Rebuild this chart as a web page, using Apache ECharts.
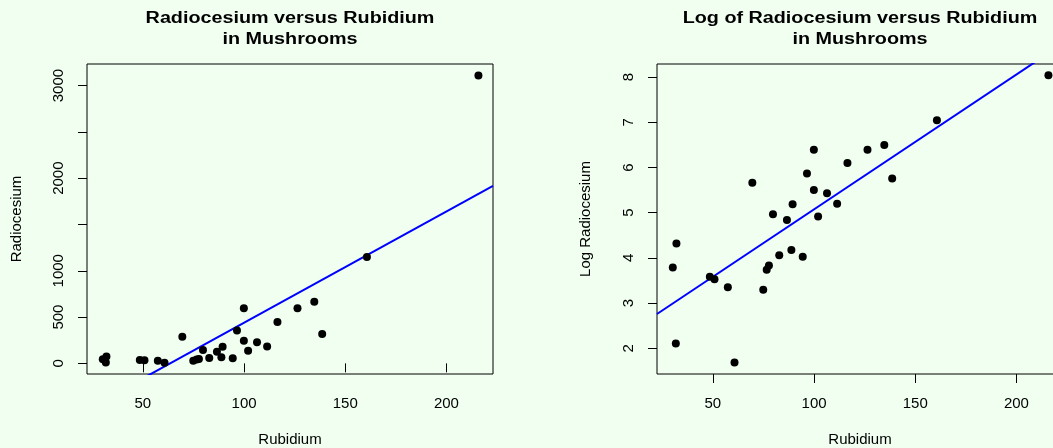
<!DOCTYPE html>
<html>
<head>
<meta charset="utf-8">
<script src="https://cdn.jsdelivr.net/npm/echarts@6/dist/echarts.min.js"></script>
<style>
  html, body { margin: 0; padding: 0; background: #F0FFF0; }
  #chart { width: 1053px; height: 448px; }
</style>
</head>
<body>
<div id="chart"></div>
<script>
// Rubidium and radiocesium concentrations measured in mushroom samples
const rubidium = [30.2, 32.0, 31.7, 48.5, 50.8, 57.4, 60.7, 69.5, 74.9, 76.6,
                  77.7, 79.7, 82.8, 86.6, 88.8, 89.4, 94.4, 96.5, 99.9, 99.9,
                  102.0, 106.4, 111.4, 116.5, 126.4, 134.7, 138.6, 160.7, 215.8];
const radiocesium = [44, 75, 8.2, 36, 34, 28.5, 5.4, 287, 27, 42,
                     46, 143, 58, 126, 65, 179, 56, 354, 596, 245,
                     136, 228, 181, 446, 596, 665, 317, 1149, 3109];

// Least-squares lines: intercept and slope
const fitRaw = { intercept: -763, slope: 12.02 };
const fitLog = { intercept: 2.09, slope: 0.02984 };

// Axis ticks
const xTicks = [50, 100, 150, 200];
const yTicksRaw = [0, 500, 1000, 1500, 2000, 2500, 3000];
const yLabelsRaw = [0, 500, 1000, 2000, 3000];
const yTicksLog = [2, 3, 4, 5, 6, 7, 8];

// Axis ranges (data range padded by 4%)
const xRange = [22.4, 223.0];
const yRangeRaw = [-115, 3233];
const yRangeLog = [1.43, 8.29];

const FONT = '"Liberation Sans", Arial, Helvetica, sans-serif';
const plain = v => String(v);

const rawPoints = rubidium.map((r, i) => [r, radiocesium[i]]);
const logPoints = rubidium.map((r, i) => [r, Math.log(radiocesium[i])]);
const lineOf = f => xRange.map(x => [x, f.intercept + f.slope * x]);

function xAxisDef(gridIndex) {
  return {
    type: 'value', gridIndex,
    min: xRange[0], max: xRange[1],
    name: 'Rubidium', nameLocation: 'middle', nameGap: 58,
    nameTextStyle: { fontFamily: FONT, fontSize: 15, color: '#000' },
    axisLine: { show: false },
    axisTick: { show: true, inside: false, length: 9, customValues: xTicks,
                lineStyle: { color: '#000', width: 1 } },
    axisLabel: { customValues: xTicks, margin: 22, formatter: plain,
                 fontFamily: FONT, fontSize: 15, color: '#000' },
    splitLine: { show: false }
  };
}

function yAxisDef(gridIndex, range, ticks, labels, name, gap) {
  return {
    type: 'value', gridIndex,
    min: range[0], max: range[1],
    name, nameLocation: 'middle', nameGap: gap,
    nameTextStyle: { fontFamily: FONT, fontSize: 15, color: '#000' },
    axisLine: { show: false },
    axisTick: { show: true, inside: false, length: 9, customValues: ticks,
                lineStyle: { color: '#000', width: 1 } },
    axisLabel: { customValues: labels, rotate: 90, margin: 21, formatter: plain,
                 fontFamily: FONT, fontSize: 15, color: '#000' },
    splitLine: { show: false }
  };
}

function titleText(x, text) {
  return {
    type: 'text', x, y: 8, scaleX: 1.235, scaleY: 1, originX: 0,
    style: { text, align: 'center', verticalAlign: 'top',
             fontFamily: FONT, fontSize: 16, fontWeight: 'bold', lineHeight: 21, fill: '#000' }
  };
}

const chart = echarts.init(document.getElementById('chart'), null, { renderer: 'canvas' });

chart.setOption({
  backgroundColor: '#F0FFF0',
  animation: false,
  grid: [
    { left: 87, top: 64, width: 406, height: 310, show: true, outerBoundsMode: 'none',
      borderColor: '#000', borderWidth: 1, backgroundColor: 'transparent' },
    { left: 657, top: 64, width: 406, height: 310, show: true, outerBoundsMode: 'none',
      borderColor: '#000', borderWidth: 1, backgroundColor: 'transparent' }
  ],
  xAxis: [xAxisDef(0), xAxisDef(1)],
  yAxis: [
    yAxisDef(0, yRangeRaw, yTicksRaw, yLabelsRaw, 'Radiocesium', 63),
    yAxisDef(1, yRangeLog, yTicksLog, yTicksLog, 'Log Radiocesium', 64)
  ],
  graphic: [
    titleText(290, 'Radiocesium versus Rubidium\nin Mushrooms'),
    titleText(860, 'Log of Radiocesium versus Rubidium\nin Mushrooms')
  ],
  series: [
    { type: 'scatter', xAxisIndex: 0, yAxisIndex: 0, data: rawPoints,
      symbol: 'circle', symbolSize: 8, itemStyle: { color: '#000', opacity: 1 }, z: 3 },
    { type: 'line', xAxisIndex: 0, yAxisIndex: 0, data: lineOf(fitRaw), clip: true,
      showSymbol: false, lineStyle: { color: '#0000FF', width: 2 }, z: 2 },
    { type: 'scatter', xAxisIndex: 1, yAxisIndex: 1, data: logPoints,
      symbol: 'circle', symbolSize: 8, itemStyle: { color: '#000', opacity: 1 }, z: 3 },
    { type: 'line', xAxisIndex: 1, yAxisIndex: 1, data: lineOf(fitLog), clip: true,
      showSymbol: false, lineStyle: { color: '#0000FF', width: 2 }, z: 2 }
  ]
});
</script>
</body>
</html>
